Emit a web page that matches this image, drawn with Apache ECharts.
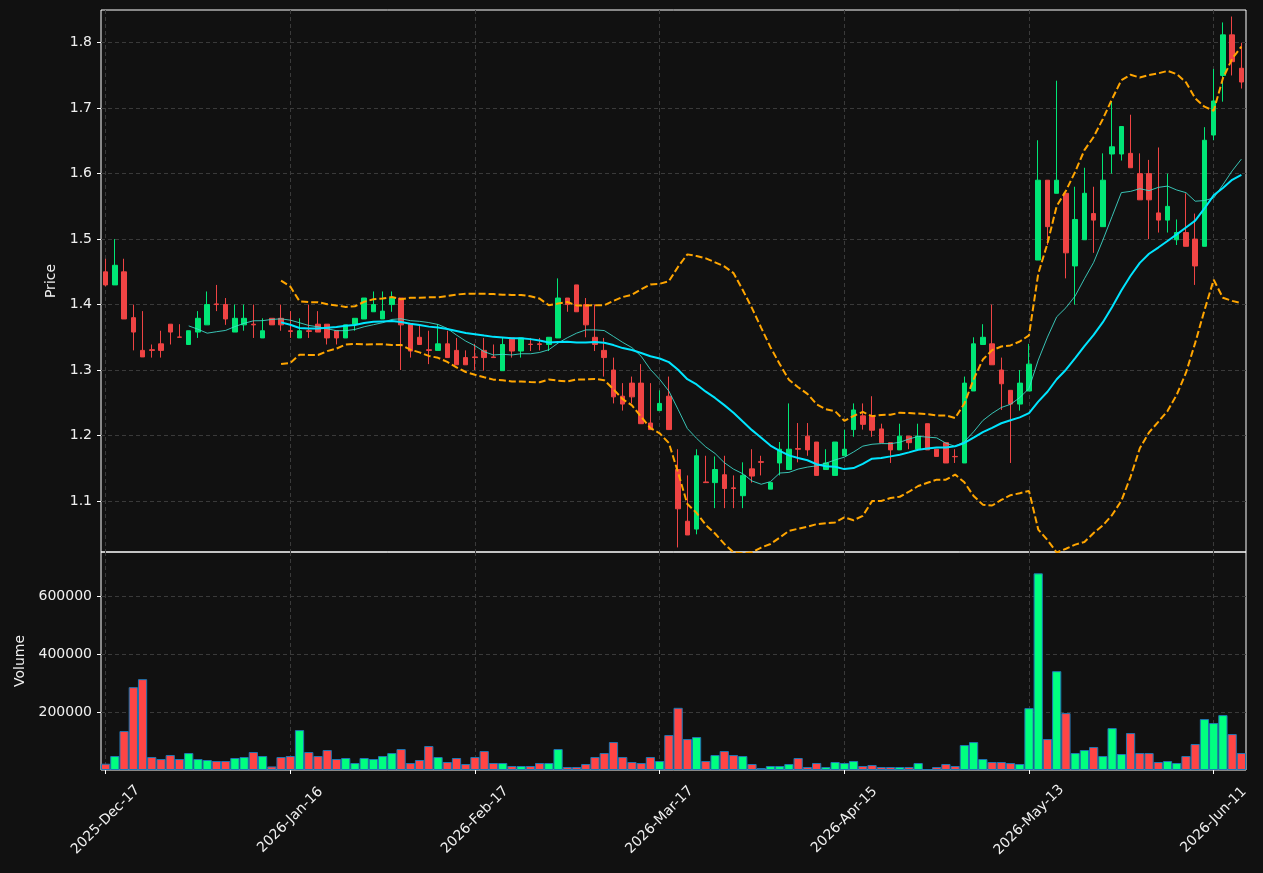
<!DOCTYPE html>
<html>
<head>
<meta charset="utf-8">
<script src="https://cdn.jsdelivr.net/npm/echarts@6/dist/echarts.min.js"></script>
<style>
	html, body { margin: 0; padding: 0; background: #111111; }
	#chart { width: 1263px; height: 873px; }
</style>
</head>
<body>
<div id="chart"></div>
<script>
// trading days, one list per month
var decDays = [17,18,19,22,23,24,26,29,30,31];
var janDays = [2,5,6,7,8,9,12,13,14,15,16,20,21,22,23,26,27,28,29,30];
var febDays = [2,3,4,5,6,9,10,11,12,13,17,18,19,20,23,24,25,26,27];
var marDays = [2,3,4,5,6,9,10,11,12,13,16,17,18,19,20,23,24,25,26,27,30,31];
var aprDays = [1,2,6,7,8,9,10,13,14,15,16,17,20,21,22,23,24,27,28,29,30];
var mayDays = [1,4,5,6,7,8,11,12,13,14,15,18,19,20,21,22,26,27,28,29];
var junDays = [1,2,3,4,5,8,9,10,11,12,15,16];

var opens = [1.450,1.430,1.450,1.380,1.330,1.331,1.340,1.370,1.3505,1.339,
	1.358,1.369,1.401,1.400,1.358,1.369,1.370,1.349,1.379,1.379,
	1.360,1.349,1.360,1.370,1.370,1.360,1.349,1.370,1.378,1.389,
	1.378,1.400,1.410,1.370,1.350,1.331,1.330,1.340,1.330,1.319,
	1.320,1.330,1.320,1.299,1.349,1.329,1.3395,1.340,1.339,1.349,
	1.410,1.430,1.400,1.350,1.330,1.300,1.260,1.280,1.280,1.219,
	1.238,1.260,1.148,1.069,1.057,1.129,1.128,1.140,1.120,1.108,
	1.149,1.160,1.118,1.158,1.148,1.180,1.199,1.190,1.148,1.139,
	1.169,1.209,1.230,1.230,1.210,1.189,1.178,1.199,1.179,1.218,
	1.179,1.189,1.168,1.158,1.268,1.339,1.340,1.300,1.269,1.248,
	1.268,1.468,1.590,1.570,1.570,1.459,1.499,1.539,1.519,1.630,
	1.630,1.631,1.600,1.600,1.540,1.529,1.499,1.510,1.500,1.489,
	1.659,1.750,1.812,1.761];

var closes = [1.430,1.460,1.378,1.358,1.320,1.330,1.330,1.358,1.350,1.360,
	1.379,1.400,1.400,1.378,1.379,1.379,1.369,1.360,1.369,1.369,
	1.359,1.360,1.359,1.358,1.349,1.349,1.369,1.379,1.410,1.400,
	1.390,1.410,1.369,1.329,1.339,1.330,1.340,1.319,1.308,1.308,
	1.319,1.319,1.319,1.339,1.329,1.349,1.339,1.339,1.350,1.410,
	1.400,1.389,1.369,1.339,1.319,1.259,1.248,1.259,1.218,1.209,
	1.249,1.209,1.088,1.048,1.169,1.128,1.148,1.119,1.119,1.139,
	1.138,1.159,1.128,1.179,1.179,1.179,1.178,1.139,1.158,1.190,
	1.179,1.239,1.217,1.208,1.189,1.178,1.199,1.189,1.199,1.178,
	1.168,1.158,1.1675,1.280,1.340,1.350,1.308,1.279,1.248,1.280,
	1.309,1.590,1.519,1.590,1.479,1.530,1.570,1.529,1.590,1.641,
	1.672,1.609,1.560,1.560,1.529,1.550,1.510,1.489,1.459,1.651,
	1.711,1.812,1.771,1.740];

var lows = [1.428,1.430,1.378,1.330,1.320,1.319,1.319,1.339,1.350,1.339,
	1.349,1.369,1.390,1.369,1.358,1.360,1.349,1.349,1.369,1.360,
	1.349,1.349,1.349,1.358,1.339,1.339,1.349,1.360,1.378,1.389,
	1.378,1.389,1.300,1.319,1.339,1.309,1.330,1.319,1.308,1.308,
	1.300,1.299,1.319,1.299,1.319,1.319,1.329,1.330,1.329,1.349,
	1.389,1.389,1.350,1.329,1.290,1.249,1.238,1.249,1.218,1.209,
	1.238,1.209,1.029,1.048,1.049,1.128,1.089,1.089,1.089,1.089,
	1.128,1.139,1.118,1.139,1.148,1.159,1.169,1.139,1.148,1.139,
	1.169,1.198,1.209,1.198,1.189,1.158,1.178,1.179,1.179,1.178,
	1.168,1.158,1.158,1.158,1.268,1.339,1.308,1.239,1.158,1.238,
	1.268,1.468,1.491,1.570,1.440,1.400,1.499,1.479,1.519,1.600,
	1.620,1.609,1.560,1.500,1.510,1.510,1.491,1.489,1.430,1.489,
	1.651,1.710,1.750,1.730];

var highs = [1.470,1.500,1.470,1.400,1.390,1.339,1.360,1.370,1.370,1.360,
	1.390,1.420,1.430,1.410,1.400,1.400,1.400,1.379,1.379,1.400,
	1.390,1.379,1.400,1.390,1.370,1.360,1.369,1.379,1.410,1.420,
	1.420,1.420,1.410,1.370,1.370,1.360,1.370,1.360,1.349,1.330,
	1.340,1.349,1.339,1.349,1.349,1.349,1.349,1.349,1.350,1.440,
	1.410,1.430,1.410,1.400,1.349,1.319,1.280,1.290,1.309,1.280,
	1.269,1.290,1.179,1.139,1.179,1.169,1.168,1.169,1.139,1.159,
	1.179,1.169,1.128,1.190,1.249,1.219,1.219,1.190,1.179,1.190,
	1.209,1.249,1.249,1.260,1.218,1.189,1.218,1.199,1.218,1.218,
	1.179,1.189,1.179,1.290,1.350,1.370,1.400,1.319,1.269,1.300,
	1.340,1.651,1.590,1.742,1.570,1.580,1.609,1.580,1.631,1.710,
	1.672,1.690,1.631,1.621,1.640,1.600,1.530,1.570,1.539,1.671,
	1.760,1.831,1.840,1.800];

var volumes = [21700,48300,134500,286200,313800,44800,37900,51700,37900,58600,
	37900,34500,31000,31000,41400,44800,62100,48300,12400,44800,
	48300,137900,62100,48300,69000,37900,41400,24100,41400,37900,
	48300,58600,72400,24100,34500,82800,44800,27600,41400,20700,
	44800,65500,24100,24100,13800,13800,13800,24100,24100,72400,
	10300,10300,20700,44800,58600,96500,44800,27600,24100,44800,
	31000,120700,214800,106900,113800,31000,51700,65500,51700,48300,
	20700,6900,13800,13800,20700,41400,10300,24100,10300,27600,
	24100,31000,13800,17200,10300,10300,10300,10300,24100,3400,
	10300,20700,13800,86200,96500,37900,27600,27600,24100,20700,
	213800,679300,106900,341400,196600,58600,69000,79300,48300,144800,
	55200,127600,58600,58600,27600,31000,24100,48300,89700,175900,
	162100,189700,124100,58600];

var priceTicks = [1.1, 1.2, 1.3, 1.4, 1.5, 1.6, 1.7, 1.8];
var volumeTicks = [200000, 400000, 600000];

var upColor = '#00e676', downColor = '#ef4444';
var volUpColor = '#00ff80', volDownColor = '#ff4545';
var textColor = '#f0f0f0';
var frameColor = '#ffffff';
var gridLine = { color: '#3a3a3a', type: [4, 3], width: 1 };

function monthDates(prefix, days)
{
	return days.map(function(d) { return prefix + '-' + (d < 10 ? '0' + d : d); });
}

var dates = [].concat(
	monthDates('2025-Dec', decDays), monthDates('2026-Jan', janDays),
	monthDates('2026-Feb', febDays), monthDates('2026-Mar', marDays),
	monthDates('2026-Apr', aprDays), monthDates('2026-May', mayDays),
	monthDates('2026-Jun', junDays));

// rolling mean / bollinger of the closes (window n)
function rollingMean(n)
{
	return closes.map(function(c, i)
	{
		if (i < n - 1) return '-';
		var s = 0;
		for (var k = i - n + 1; k <= i; k++) s += closes[k];
		return s / n;
	});
}

function band(n, mult)
{
	var mean = rollingMean(n);
	return closes.map(function(c, i)
	{
		if (i < n - 1) return '-';
		var v = 0;
		for (var k = i - n + 1; k <= i; k++) v += Math.pow(closes[k] - mean[i], 2);
		return mean[i] + mult * Math.sqrt(v / n);
	});
}

var ma10 = rollingMean(10);
var ma20 = rollingMean(20);
var upper = band(20, 2);
var lower = band(20, -2);

var candles = opens.map(function(o, i) { return [o, closes[i], lows[i], highs[i]]; });
var volumeBars = volumes.map(function(v, i)
{
	return { value: v, itemStyle: { color: closes[i] > opens[i] ? volUpColor : volDownColor } };
});

var font = 'DejaVu Sans';

var options =
{
	backgroundColor: '#111111',
	animation: false,
	textStyle: { fontFamily: font },
	grid:
	[
		{ left: 101, right: 17, top: 10, height: 542, show: true, borderColor: frameColor, borderWidth: 1 },
		{ left: 101, right: 17, top: 552, height: 218, show: true, borderColor: frameColor, borderWidth: 1 }
	],
	xAxis:
	[
		{
			type: 'category', gridIndex: 0, data: dates,
			axisLine: { show: false }, axisTick: { show: false }, axisLabel: { show: false },
			splitLine: { show: true, interval: 19, alignWithLabel: true, lineStyle: gridLine }
		},
		{
			type: 'category', gridIndex: 1, data: dates,
			axisLine: { show: false },
			axisTick: { show: true, interval: 19, alignWithLabel: true, length: 4, lineStyle: { color: frameColor } },
			axisLabel: { interval: 19, rotate: 45, margin: 50, align: 'center', verticalAlign: 'middle',
				color: textColor, fontSize: 14, fontFamily: font },
			splitLine: { show: true, interval: 19, alignWithLabel: true, lineStyle: gridLine }
		}
	],
	yAxis:
	[
		{
			type: 'value', gridIndex: 0, min: 1.022, max: 1.85, minInterval: 0.1, maxInterval: 0.1,
			name: 'Price', nameLocation: 'middle', nameGap: 36,
			nameTextStyle: { color: textColor, fontSize: 14, fontFamily: font },
			axisLine: { show: false },
			axisTick: { show: true, length: 4, customValues: priceTicks, lineStyle: { color: frameColor } },
			axisLabel: { customValues: priceTicks, margin: 9, color: textColor, fontSize: 14, fontFamily: font,
				formatter: function(v) { return v.toFixed(1); } },
			splitLine: { show: true, lineStyle: gridLine }
		},
		{
			type: 'value', gridIndex: 1, min: 0, max: 753000, interval: 200000,
			name: 'Volume', nameLocation: 'middle', nameGap: 74,
			nameTextStyle: { color: textColor, fontSize: 14, fontFamily: font },
			axisLine: { show: false },
			axisTick: { show: true, length: 4, customValues: volumeTicks, lineStyle: { color: frameColor } },
			axisLabel: { customValues: volumeTicks, margin: 9, color: textColor, fontSize: 14, fontFamily: font,
				formatter: function(v) { return String(v); } },
			splitLine: { show: true, lineStyle: gridLine }
		}
	],
	series:
	[
		{
			type: 'candlestick', xAxisIndex: 0, yAxisIndex: 0, data: candles, barWidth: 5,
			itemStyle: { color: upColor, color0: downColor, borderColor: upColor, borderColor0: downColor, borderWidth: 1 }
		},
		{
			type: 'line', xAxisIndex: 0, yAxisIndex: 0, data: ma10, symbol: 'none',
			lineStyle: { color: 'rgba(64,224,208,0.85)', width: 1 }
		},
		{
			type: 'line', xAxisIndex: 0, yAxisIndex: 0, data: ma20, symbol: 'none',
			lineStyle: { color: '#00e5ff', width: 2 }
		},
		{
			type: 'line', xAxisIndex: 0, yAxisIndex: 0, data: upper, symbol: 'none',
			lineStyle: { color: '#ffa500', width: 2, type: [7, 3] }
		},
		{
			type: 'line', xAxisIndex: 0, yAxisIndex: 0, data: lower, symbol: 'none',
			lineStyle: { color: '#ffa500', width: 2, type: [7, 3] }
		},
		{
			type: 'bar', xAxisIndex: 1, yAxisIndex: 1, data: volumeBars, barCategoryGap: '0%',
			itemStyle: { borderColor: '#1f77b4', borderWidth: 1 }
		}
	]
};

var chart = echarts.init(document.getElementById('chart'));
chart.setOption(options);
</script>
</body>
</html>
